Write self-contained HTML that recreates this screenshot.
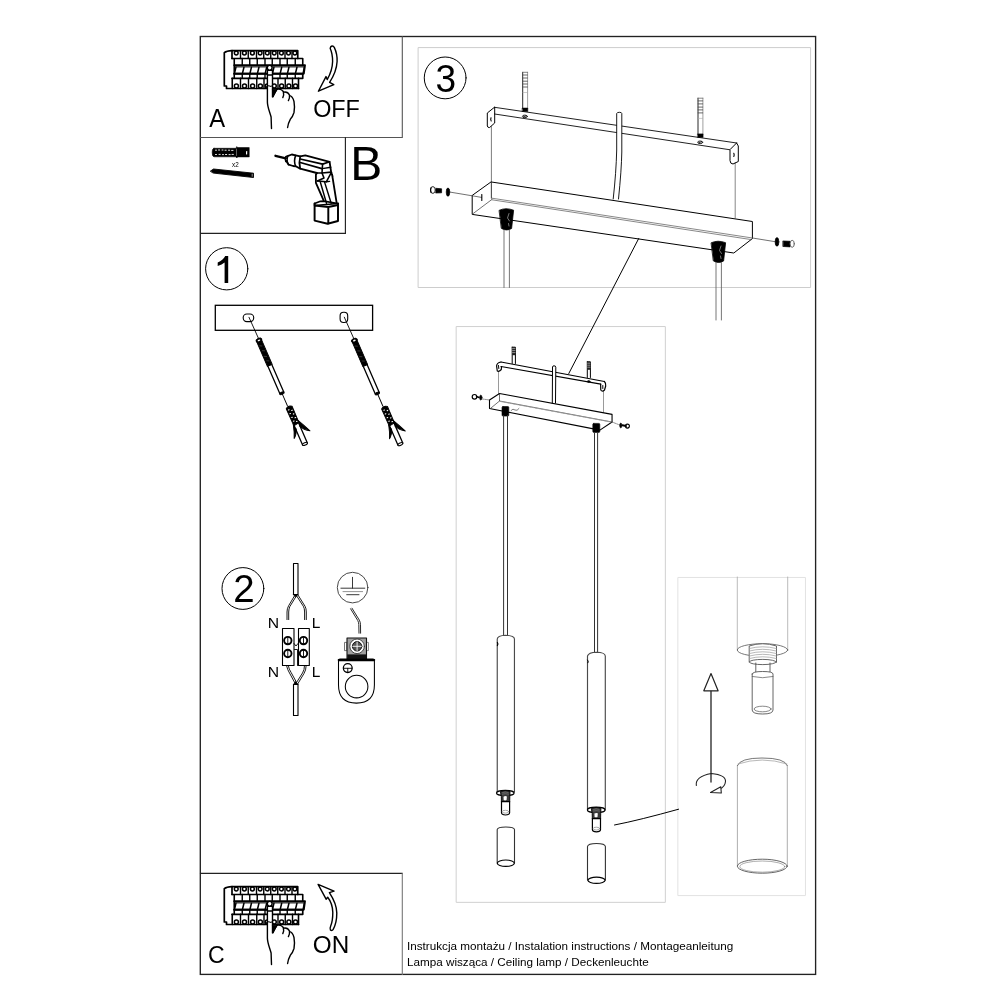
<!DOCTYPE html>
<html><head><meta charset="utf-8">
<style>
html,body{margin:0;padding:0;background:#fff;width:1000px;height:1000px;overflow:hidden}
svg{display:block;will-change:transform}
text{font-family:"Liberation Sans",sans-serif;fill:#000;stroke:none}
</style></head><body>
<svg width="1000" height="1000" viewBox="0 0 1000 1000" fill="none" stroke="#000" stroke-linejoin="round" stroke-linecap="round">
<!-- outer frame -->
<rect x="200.3" y="36.5" width="615.3" height="937.9" stroke="#222" stroke-width="1.35" stroke-linejoin="miter"/>
<!-- box A -->
<path d="M200.5 137.5H402.3V36.5" stroke="#555" stroke-width="1.1" stroke-linejoin="miter"/>
<!-- box B -->
<path d="M200.5 233.4H345.4V137.5" stroke="#222" stroke-width="1.15" stroke-linejoin="miter"/>
<!-- box C -->
<path d="M200.5 873.4H402.3" stroke="#222" stroke-width="1.2"/><path d="M402.3 873.4V974.5" stroke="#777" stroke-width="1.1"/>
<!-- step3 box -->
<rect x="418.5" y="47.6" width="392.1" height="239.9" stroke="#cdcdcd" stroke-width="1"/>
<!-- center box -->
<rect x="456.55" y="326.55" width="208.8" height="575.8" stroke="#d0d0d0" stroke-width="1"/>
<!-- detail box -->
<rect x="678.25" y="577.45" width="127.2" height="318.15" stroke="#e2e2e2" stroke-width="1"/>

<!-- panels -->
<g id="panel" stroke="#000">
<path d="M232 50.7Q226.5 51 224.3 52.7V86H226.5V88.5H298.5" stroke-width="1.7"/>
<path d="M232 58.5V50.7H297.75V58.5" stroke-width="1.7"/>
<path d="M240.5 50.7V58.5M248.25 50.7V58.5M256.5 50.7V58.5M263.75 50.7V58.5M270.75 50.7V58.5M277.75 50.7V58.5M285 50.7V58.5M292 50.7V58.5" stroke-width="1.4"/>
<path d="M234.35 53A1.9 1.9 0 1 0 238.15 53A1.9 1.9 0 1 0 234.35 53M242.48 53A1.9 1.9 0 1 0 246.28 53A1.9 1.9 0 1 0 242.48 53M250.48 53A1.9 1.9 0 1 0 254.28 53A1.9 1.9 0 1 0 250.48 53M258.22 53A1.9 1.9 0 1 0 262.02 53A1.9 1.9 0 1 0 258.22 53M265.35 53A1.9 1.9 0 1 0 269.15 53A1.9 1.9 0 1 0 265.35 53M272.35 53A1.9 1.9 0 1 0 276.15 53A1.9 1.9 0 1 0 272.35 53M279.48 53A1.9 1.9 0 1 0 283.28 53A1.9 1.9 0 1 0 279.48 53M286.60 53A1.9 1.9 0 1 0 290.40 53A1.9 1.9 0 1 0 286.60 53M292.98 53A1.9 1.9 0 1 0 296.78 53A1.9 1.9 0 1 0 292.98 53" stroke-width="1.5"/>
<path d="M232 58.5H302.75V65.3M234.25 58.5V78.3" stroke-width="1.6"/>
<path d="M242.25 58.5V65.3M249.75 58.5V65.3M257.25 58.5V65.3M265 58.5V65.3M272.25 58.5V65.3M280 58.5V65.3M287.25 58.5V65.3M295.25 58.5V65.3" stroke-width="1.4"/>
<path d="M234.25 65.2H305L303.8 73.7H234.25" stroke-width="1.9"/>
<path d="M234.6 66.9H304.6" stroke-width="1"/>
<path d="M235.95 67.2L234.55 73M243.95 67.2L242.55 73M251.45 67.2L250.05 73M258.95 67.2L257.55 73M266.70 67.2L265.30 73M273.95 67.2L272.55 73M281.70 67.2L280.30 73M288.95 67.2L287.55 73M296.95 67.2L295.55 73M304.4 67L303.2 73" stroke-width="1.5"/>
<path d="M234.25 73.7H302.75V78.3H232" stroke-width="1.7"/>
<path d="M242.25 73.7V78.3M249.75 73.7V78.3M257.25 73.7V78.3M265 73.7V78.3M272.25 73.7V78.3M280 73.7V78.3M287.25 73.7V78.3M295.25 73.7V78.3" stroke-width="1.4"/>
<path d="M232.25 78.3V88.5M298.5 78.3V88.5" stroke-width="1.6"/>
<path d="M240.5 78.3V88.5M248.5 78.3V88.5M256.75 78.3V88.5M264 78.3V88.5M270.5 78.3V88.5M278 78.3V88.5M285.25 78.3V88.5M292.5 78.3V88.5" stroke-width="1.4"/>
<path d="M234.38 86A2 2 0 1 1 238.38 86A2 2 0 1 1 234.38 86M242.50 86A2 2 0 1 1 246.50 86A2 2 0 1 1 242.50 86M250.62 86A2 2 0 1 1 254.62 86A2 2 0 1 1 250.62 86M258.38 86A2 2 0 1 1 262.38 86A2 2 0 1 1 258.38 86M265.25 86A2 2 0 1 1 269.25 86A2 2 0 1 1 265.25 86M272.25 86A2 2 0 1 1 276.25 86A2 2 0 1 1 272.25 86M279.62 86A2 2 0 1 1 283.62 86A2 2 0 1 1 279.62 86M286.88 86A2 2 0 1 1 290.88 86A2 2 0 1 1 286.88 86M293.50 86A2 2 0 1 1 297.50 86A2 2 0 1 1 293.50 86" stroke-width="1.5"/>
<path d="M271.5 128.6L271.1 117C269.5 111 267.4 107 267.4 102V70.2H272.5V96.9L273.5 95L277 89.3Q281.2 88.4 283.3 91.5Q284.2 94.5 282.8 97.6M283.4 92.2Q287.6 91.2 289.5 95Q289.9 98 288.4 100.6M289.3 95.4Q292.6 96 294 101.5Q295 107 294 112.5Q292.6 117 290.3 119.3Q288.2 123 287.6 127.5" fill="#fff" stroke-width="1.4"/>
<path d="M273.2 96.9L277 89.3L272.8 89.2Z" fill="#000" stroke-width="0.9"/>
<path d="M267.5 70.4H272.5M267.5 75H272.5" stroke-width="1.3"/>
<circle cx="269.7" cy="67.8" r="2.4" fill="#fff" stroke-width="1.4"/>
<path d="M266.6 86.6Q268.5 85 270.5 86.4Q271.5 85.8 272.5 86.2" stroke-width="1.1"/>
</g>
<use href="#panel" transform="translate(0 836)"/>
<!-- boxb -->
<g id="boxb" stroke="#000">
<!-- dowel -->
<path d="M214 148.3H236L236.8 146.6L237.6 147.6H248.6L249.2 147.5V157L248.6 156.9H237.6L236.8 158L236 156.8H214Q212.2 156.8 212.2 152.5Q212.2 148.3 214 148.3Z" fill="#000" stroke-width="0.6"/>
<path d="M215.5 150.2h1M218.5 150h1.2M222 150h1M225 150.2h1.2M228.5 150.2h1.2M231.6 150.4h1.4M215.5 154.5h1M219 154.4h1.2M222.5 154.6h1M225.5 154.5h1.2M229 154.6h1.2M232 154.4h1.4" stroke="#fff" stroke-width="0.9"/>
<path d="M246.6 151.6v2.4" stroke="#fff" stroke-width="1.2"/>
<path d="M236.5 149v6.5" stroke="#777" stroke-width="0.8"/>
<!-- screw -->
<path d="M210.6 171L213.5 169L253.5 173.2V177.5L213.5 173.1Z" fill="#000" stroke-width="0.9"/>
<path d="M252.2 174.3v2" stroke="#bbb" stroke-width="0.8"/>
<text x="232" y="166.8" font-size="6.3">x2</text>
<!-- drill -->
<path d="M275.5 155.8L285.8 158.3" stroke-width="2.40"/>
<path d="M285.8 156.8Q284.8 159 285.8 161.5" stroke-width="1.56"/>
<path d="M286.2 156.6L291.8 154.5L295.7 155.4L300.2 156.4L305.3 155.4L329.6 161.8L331 171.2Q333.5 180 332.1 174.7L336.6 202.6" stroke-width="1.82"/>
<path d="M286.2 160.8L288.6 164.7L293.1 166L295.7 166.3L300.2 168.6L316.8 173" stroke-width="1.82"/>
<path d="M287.7 156.2Q286.3 161 288.6 164.7" stroke-width="1.43"/>
<path d="M295.7 155.4Q293.4 161 295.7 166.3" stroke-width="1.56"/>
<path d="M300.2 156.4Q298.6 162.5 300.2 168.6" stroke-width="1.69"/>
<path d="M300.2 159L322.6 164.1L329.6 161.8" stroke-width="1.69"/>
<path d="M300.2 162.5L321.9 168.6" stroke-width="1.69"/>
<path d="M322.6 164.1L322 173L331.2 172.1" stroke-width="1.56"/>
<path d="M322.3 168.6L330.8 167.2" stroke-width="1.43"/>
<path d="M316.8 173L315.9 174.7V182.8L323.6 200.4" stroke-width="1.82"/>
<path d="M316.8 173L322 173L324 178L317.4 181" stroke-width="1.56"/>
<path d="M317.4 181L326.3 181.8L331.4 172.4" stroke-width="1.56"/>
<path d="M320.3 182L326.5 203.2M324.5 181.9L331.2 203.2M326.3 181.8L329.6 181.4" stroke-width="1.43"/>
<path d="M314.6 203.5L320.4 201.3L323.6 201.2L338 203.5L314.6 205.5Z" stroke-width="1.69"/>
<path d="M314.6 203.5V220.6L327.6 223.8L338 221V203.5M314.6 205.5L328.3 207L338 205M328.3 207V223.7" stroke-width="1.95"/>
</g>

<!-- step1 -->
<g id="step1" stroke="#000">
<rect x="215.3" y="305.3" width="157.3" height="25" stroke-width="1.3" stroke-linejoin="miter"/>
<rect x="243.2" y="314" width="10.5" height="7.6" rx="3.6" stroke-width="1.1"/>
<rect x="340.1" y="312.3" width="7.6" height="10.2" rx="3.5" stroke-width="1.1"/>
<path d="M249 317.3L258.4 338.2" stroke-width="0.9"/>
<path d="M344.3 317.2L353.8 338.6" stroke-width="0.9"/>
<g id="dw1" transform="translate(258.9 340.2) rotate(-23.5)">
<rect x="-2.6" y="0" width="5.2" height="27.5" fill="#000" stroke-width="0.9"/>
<ellipse cx="0" cy="0" rx="3.1" ry="2" fill="#000" stroke-width="0.7"/>
<ellipse cx="0" cy="0.2" rx="1.4" ry="0.8" fill="#fff" stroke="none"/>
<path d="M-1.5 5.5l2 1M-1 11l2 1M-1.5 17l2 1M-1 22l2 1" stroke="#666" stroke-width="0.5"/>
<path d="M-2.1 28V57.5M2.1 28V57.5" stroke-width="1.3"/>
<ellipse cx="0" cy="57.8" rx="2.4" ry="1.2" fill="#000" stroke-width="0.9"/>
<path d="M0 58.5V71.5" stroke-width="0.9"/>
<g transform="translate(0.9 0)">
<path d="M-3.2 73.8Q0 71 3.2 73.8L3 91.5L-3 92.5Z" fill="#000" stroke-width="0.9"/>
<path d="M-1.6 75.8h.6M1.2 77.5h.6M-1.8 79.8h.6M1.2 81.5h.6M-1.6 84h.6M1.3 85.6h.6M-1.5 88h.6M1.2 89.6h.6" stroke="#fff" stroke-width="1.1"/>
<path d="M-3 91Q-4.8 98 -7.8 104.2Q-3.8 101.5 -2 96" fill="#000" stroke-width="0.9"/>
<path d="M2.6 88.5Q6.2 95.5 9.8 103.5Q4.5 100 2.3 95" fill="#000" stroke-width="0.9"/>
<path d="M-2.6 92.5V113.5M2.6 92V113.5" stroke-width="1.3"/>
<ellipse cx="0" cy="113.5" rx="2.6" ry="1.2" fill="#fff" stroke-width="1.1"/>
</g>
</g>
<use href="#dw1" transform="translate(95.4 0.2)"/>
</g>

<!-- step2 -->
<g id="step2" stroke="#000">
<!-- top cable -->
<rect x="293.5" y="563.5" width="4.5" height="31" stroke-width="1.1"/>
<path d="M295 595L288.6 605.8Q287 608.5 287 612V619.6M296.8 595.2L289.8 606.6Q288.8 608.8 288.7 612V619.6" stroke-width="0.9"/>
<path d="M296.6 595.8L303.3 606.2Q304.6 608.4 304.6 612V619.6M298 595L305 606.2Q306.3 608.5 306.3 612V619.6" stroke-width="0.9"/>
<path d="M293.6 594.5H297.9L295.8 597Z" fill="#000" stroke-width="0.6"/>
<!-- terminal -->
<rect x="282.5" y="628.5" width="11.5" height="37" stroke-width="1.1"/>
<rect x="298.5" y="628.5" width="10.8" height="37" stroke-width="1.1"/>
<g stroke-width="1.9">
<circle cx="287.8" cy="640.6" r="3.7"/><circle cx="303.5" cy="640.6" r="3.7"/>
<circle cx="287.8" cy="653.5" r="3.7"/><circle cx="303.5" cy="653.5" r="3.7"/>
</g>
<path d="M287.8 637.6V643.6M303.5 637.6V643.6M287.8 650.5V656.5M303.5 650.5V656.5" stroke-width="0.9"/>
<path d="M294 643.5L296 646L298 643.5M294.5 649.5H297.5V665.5" stroke-width="0.9"/>
<!-- bottom wires -->
<path d="M286.5 665.5Q287.5 670 289.5 673L295.2 683.5M288.3 665.5Q289 669.5 291 672.3L296.6 682.5" stroke-width="0.9"/>
<path d="M304.5 665.5Q304.5 670 302.5 673L296.2 683M306.2 665.5Q306 670.5 304 673.5L297.8 683.8" stroke-width="0.9"/>
<path d="M293.6 684.2L295.5 681.5L298 684.2Z" fill="#000" stroke-width="0.6"/>
<rect x="293.5" y="684.5" width="4.5" height="31" stroke-width="1.1"/>
<!-- N L labels -->
<text transform="translate(267.74 627.6) scale(1.043 1)" font-size="15.07">N</text>
<text transform="translate(311.76 627.6) scale(1.025 1)" font-size="15.07">L</text>
<text transform="translate(267.74 676.9) scale(1.043 1)" font-size="15.07">N</text>
<text transform="translate(311.76 676.9) scale(1.025 1)" font-size="15.07">L</text>
<!-- ground symbol -->
<circle cx="352.6" cy="587.6" r="15.3" stroke="#333" stroke-width="0.9"/>
<path d="M352.5 577.3V588.2M340.9 588.2H364.8M346.7 594.7H359" stroke="#222" stroke-width="0.9"/>
<path d="M343 591.6H362.6" stroke="#888" stroke-width="0.9"/>
<!-- ground wire -->
<path d="M350.6 608.8L357.8 620.6Q358.6 622.2 358.8 624.5L359 633.2M352 608.2L359.4 620.2Q360.3 622 360.5 624.5L360.6 633.2" stroke-width="0.85"/>
<!-- screw box -->
<rect x="344.9" y="642.4" width="2" height="8.2" stroke="#555" stroke-width="0.8"/>
<rect x="366.6" y="642.4" width="1.9" height="8.2" stroke="#777" stroke-width="0.8"/>
<rect x="347" y="638" width="19.5" height="20.8" fill="#a0a0a0" stroke="#111" stroke-width="1.1"/>
<circle cx="357.1" cy="646.3" r="7.3" fill="#fff" stroke="#333" stroke-width="0.9"/>
<circle cx="357.1" cy="646.3" r="4.7" fill="#555" stroke="#111" stroke-width="1"/>
<path d="M357.1 642V650.6M352.8 646.3H361.4" stroke="#fff" stroke-width="0.9"/>
<rect x="347.2" y="654.4" width="19.1" height="4.4" fill="#111" stroke="none"/>
<!-- lug -->
<path d="M338.5 660.5Q338.5 659.1 340 659.1H373Q374.4 659.1 374.4 660.5V685Q374.4 703.1 356.4 703.1Q338.5 703.1 338.5 685Z" fill="#fff" stroke-width="1.05"/>
<path d="M338.8 660.1H374.1" stroke-width="2.3"/>
<circle cx="347.75" cy="668.1" r="4.4" stroke-width="1.3"/>
<path d="M343.6 668.3H351.9M347.75 668.3V672" stroke-width="0.9"/>
<circle cx="356.6" cy="686.6" r="11.3" stroke-width="1.05"/>
</g>

<!-- step3 -->
<g id="step3" stroke="#000">
<!-- vertical thin lines from bracket tabs -->
<path d="M491.4 126.6V198" stroke="#444" stroke-width="0.7"/>
<path d="M735.2 162.8V218" stroke="#555" stroke-width="0.7"/>
<!-- bracket -->
<path d="M494.5 107.3L736.6 143" stroke="#222" stroke-width="1"/>
<path d="M494.6 114L729.5 149.7" stroke="#222" stroke-width="1"/>
<path d="M494.4 107.3L487.3 113V126Q487.6 127.8 489.6 127.5L494.7 123V107.3" stroke-width="1"/>
<path d="M491 117.8Q490.3 119.5 491.2 121" stroke-width="1.1"/>
<path d="M736.6 143L738.3 146V161.5L733 164Q730.2 164 730 160.5V149.6L736.6 143" stroke-width="1"/>
<path d="M733.8 153.3Q734.6 155 733.8 156.5" stroke-width="1.1"/>
<!-- bolts -->
<g id="bolt3">
<path d="M522.7 72.3V108.5" stroke="#111" stroke-width="0.9"/>
<path d="M527.6 72.3V108.5" stroke="#888" stroke-width="0.8"/>
<path d="M522.7 72.3H527.6" stroke="#666" stroke-width="0.8"/>
<path d="M522.8 75H527.4M522.8 78H527.4M522.8 81.2H527.4M522.8 84H527.4M522.8 87H527.4" stroke="#444" stroke-width="0.8"/>
<path d="M523 92.5H527.3" stroke="#aaa" stroke-width="0.6"/>
<rect x="522.5" y="108" width="5.3" height="3.5" fill="#000" stroke-width="0.5"/>
<ellipse cx="524.9" cy="116.4" rx="2.5" ry="1.3" stroke="#222" stroke-width="1"/>
<path d="M523.4 116.8L526.4 115.8" stroke-width="0.8"/>
</g>
<use href="#bolt3" transform="translate(175.3 25.9)"/>
<!-- central cable -->
<path d="M613.2 199Q616.2 172 616.7 150V113.5Q617 112.3 619.3 112.3Q621.8 112.3 621.8 113.5V152Q621.5 170 618.5 199" fill="#fff" stroke-width="0.9"/>
<!-- canopy -->
<path d="M491.4 182L752.4 221.5V238.6L733.8 253L472.2 214.4V195.8Z" stroke-width="1"/>
<path d="M492 198.2L752.4 238M492 199.8L751.2 239.6" stroke="#555" stroke-width="0.7"/><path d="M472.8 213.8L492 199.4M491.4 182V198.2" stroke="#333" stroke-width="0.7"/>
<!-- left screw -->
<path d="M450.6 192.2L472.2 195.8M472.2 195.8L481.5 197.4" stroke="#333" stroke-width="0.7"/>
<path d="M481.8 194.6V200.4" stroke-width="1.1"/>
<ellipse cx="448" cy="192.1" rx="1.8" ry="4.2" fill="#000" stroke-width="0.6"/>
<path d="M436 188.3L441.6 188.8V192.8L436 193Z" fill="#000" stroke-width="0.7"/>
<ellipse cx="432.9" cy="190" rx="2.5" ry="3.4" fill="#fff" stroke="#222" stroke-width="1"/>
<path d="M431 187.8Q430.3 190 431 192.4" stroke-width="1.1"/>
<!-- right screw -->
<path d="M752.4 238L774.6 241.6" stroke="#333" stroke-width="0.7"/>
<ellipse cx="777" cy="241.9" rx="1.9" ry="4.3" fill="#000" stroke-width="0.6"/>
<path d="M783.2 241L790.2 241.3V246.9L783.2 246.5Z" fill="#000" stroke-width="0.7"/>
<ellipse cx="792.2" cy="243.8" rx="2.1" ry="3.5" fill="#fff" stroke="#666" stroke-width="1"/>
<!-- hangers -->
<g id="hanger3">
<path d="M499.4 210.2Q505.8 207.2 513.6 210.2L511.6 228.5Q506.5 231.5 501.6 228.5Z" fill="#000" stroke-width="0.8"/>
<path d="M509 213.5L507.5 218L509.5 221M508.5 223.5L509 226" stroke="#aaa" stroke-width="0.7"/>
<path d="M504 230V287.5M509.4 230V287.5" stroke="#666" stroke-width="0.9"/>
</g>
<use href="#hanger3" transform="translate(212 32.5)"/>
<!-- connector line -->
<path d="M638.7 238.5L568.8 373.5" stroke-width="1"/>
</g>

<!-- center -->
<g id="center" stroke="#000">
<!-- thin verticals -->
<path d="M498.5 371.5V393.5M603.5 391.4V412.5" stroke="#555" stroke-width="0.6"/>
<!-- bracket -->
<path d="M501 362L604.4 381.5M501 366.5L600.8 384.2" stroke-width="1.2"/>
<path d="M501 362Q497 362.5 496.6 366L497.3 371Q499 372 501.3 369.5L501.5 366.5" stroke-width="1.2"/>
<path d="M498.5 365.5L498.8 368.5" stroke-width="1"/>
<path d="M604.4 381.5Q606 383 605.7 386L604.5 390Q602.3 392.2 600.8 390L600.6 384.2" stroke-width="1.2"/>
<path d="M602.8 385.5V388.5" stroke-width="1"/>
<!-- bolts -->
<path d="M512.2 347.2H515.4V363.5M512.2 347.2V363.5" stroke-width="1"/>
<rect x="512.2" y="347.2" width="3.2" height="8" fill="#222" stroke="none"/>
<path d="M512.6 348.6H515M512.6 350.6H515M512.6 352.6H515" stroke="#fff" stroke-width="0.5"/>
<path d="M587.3 361.8H590.4V377.5M587.3 361.8V377.5" stroke-width="1"/>
<rect x="587.3" y="361.8" width="3.1" height="8" fill="#222" stroke="none"/>
<path d="M587.7 363.2H590M587.7 365.2H590M587.7 367.2H590" stroke="#fff" stroke-width="0.5"/>
<ellipse cx="588.7" cy="381.5" rx="1.4" ry="0.9" fill="#000" stroke-width="0.6"/>
<!-- cable -->
<path d="M552.3 403.2L552.5 367Q552.6 365.8 554 365.8Q555.8 365.8 555.8 367.2L555.5 403" fill="#fff" stroke-width="1"/>
<!-- canopy -->
<path d="M499.5 393.5L612.05 414.35V422L599.9 430.1L489.5 408.5V400L499.5 393.5Z" stroke-width="1.1"/>
<path d="M499.5 394V401L491 408M499.5 401L612 422" stroke="#333" stroke-width="0.7"/>
<path d="M500.5 401.5L611 422" stroke="#999" stroke-width="0.9" stroke-dasharray="2 1.2"/>
<!-- screws -->
<path d="M482.5 399L489.5 400M612.05 422L619.7 425" stroke="#444" stroke-width="0.6" stroke-dasharray="1.5 1"/>
<circle cx="474.5" cy="396.8" r="2.3" stroke-width="1.2"/>
<path d="M476.5 396.5L479 397.5" stroke-width="1.4"/>
<ellipse cx="480.8" cy="397.6" rx="1.2" ry="2.5" fill="#000" stroke-width="0.6"/>
<ellipse cx="620.8" cy="425.5" rx="1.1" ry="2.4" fill="#000" stroke-width="0.6"/>
<path d="M622.5 425.2L626 426" stroke-width="2"/>
<circle cx="627.4" cy="426.1" r="2" stroke-width="1.1"/>
<!-- hangers -->
<rect x="502" y="406.5" width="6.8" height="9.6" rx="1" fill="#000" stroke-width="0.6"/>
<path d="M511 410.5Q513 408 515 410Q517 411.5 519 408.5" stroke="#444" stroke-width="0.7"/>
<rect x="592.8" y="423.4" width="7" height="9" rx="1" fill="#000" stroke-width="0.6"/>
</g>

<!-- pend -->
<g id="pend" stroke="#000">
<!-- left pendant -->
<path d="M503.6 415.5V635.5M507.5 415.5V635.3" stroke="#333" stroke-width="1"/>
<path d="M497.25 792V639Q497.6 635.5 505.5 635.2Q514.5 635.5 514.45 639V792" stroke="#4a4a4a" stroke-width="1.15"/>
<path d="M497.4 642.5Q498.4 644 497.4 645.5" stroke-width="1.2"/>
<use href="#sock" transform="translate(-90.9 -16.9)"/>
<path d="M497.2 863V829.5Q497.6 827 505.8 827Q514.2 827 514.5 829.5V863" stroke="#333" stroke-width="1.1"/>
<ellipse cx="505.8" cy="863.2" rx="8.5" ry="3.2" stroke-width="1.2"/>
<!-- right pendant -->
<path d="M594.5 433V652.5M597.6 433V652.3" stroke="#333" stroke-width="1"/>
<path d="M587.5 810V656Q588.5 652.3 596.5 652.2Q605 652.3 605.3 656V810" stroke="#4a4a4a" stroke-width="1.15"/>
<path d="M587.6 660Q589 661.5 588 662.8" stroke-width="1"/>
<g id="sock">
<ellipse cx="596.2" cy="809.9" rx="8.8" ry="2.7" fill="#fff" stroke-width="1.2"/>
<path d="M591.6 808.2Q596.2 806.6 600.9 808.2L600.7 813.8L600.6 818.6H592.3L592.2 813.8Z" fill="#3a3a3a" stroke-width="0.9"/>
<path d="M593.5 809.3Q596.2 808.4 599 809.3M593.2 811Q596.2 810.2 599.4 811" stroke="#999" stroke-width="0.5"/>
<path d="M594.4 813.6Q596 812.6 597.8 813.3L597.5 817Q596 817.6 594.6 817Z" fill="#fff" stroke="none"/>
<path d="M592.4 818.6V829.6Q592.6 831.8 596.4 831.9Q600.3 831.8 600.5 829.6V818.6" fill="#fff" stroke-width="1.2"/>
<path d="M592.4 818.6H600.5" stroke-width="1.3"/>
<ellipse cx="596.4" cy="828.6" rx="3.3" ry="1.4" stroke="#888" stroke-width="0.7"/>
</g>
<path d="M587.5 880V846.5Q588 843.5 596.5 843.5Q605 843.5 605.4 846.5V880" stroke="#333" stroke-width="1.1"/>
<ellipse cx="596.5" cy="880.3" rx="8.6" ry="3.1" stroke-width="1.2"/>
<!-- connector line to detail -->
<path d="M614.5 825Q640 820 678.6 809.2" stroke-width="1"/>
</g>
<g id="detail" stroke="#555">
<path d="M737.3 577V650M787.7 577V650" stroke="#aaa" stroke-width="0.8"/>
<ellipse cx="762.5" cy="650" rx="25.2" ry="6.3" stroke-width="0.8"/>
<path d="M749.2 662V646Q762.5 641.5 776.5 646V662" fill="#fff" stroke-width="0.9"/>
<path d="M749.5 648.5Q762.5 645 776.3 648.5M749.5 651Q762.5 647.5 776.3 651M749.5 653.5Q762.5 650 776.3 653.5M749.5 656Q762.5 652.5 776.3 656M749.5 658.5Q762.5 655 776.3 658.5" stroke="#999" stroke-width="0.7"/>
<ellipse cx="762.8" cy="662" rx="13.5" ry="2.6" stroke-width="0.9"/>
<path d="M755.8 663V672M770 663V672" stroke-width="0.9"/>
<path d="M752.2 674V710Q752.2 714 762.6 714Q773 714 773 710V674Q773 671.5 762.6 671.5Q752.2 671.5 752.2 674Z" fill="#fff" stroke-width="0.9"/>
<path d="M752.2 676.5Q762.6 679 773 676.5" stroke-width="0.7"/>
<ellipse cx="762.6" cy="709" rx="8.5" ry="2.8" stroke-width="0.7"/>
<path d="M737.4 866V765.6M787.3 765.6V866" stroke="#999" stroke-width="0.8"/><path d="M737.4 765.6Q740 758 762 758Q785 758 787.3 765.6" stroke="#555" stroke-width="0.8"/>
<path d="M738 764Q762 756 787 764" stroke="#999" stroke-width="0.7"/>
<ellipse cx="762.3" cy="866.2" rx="24.9" ry="7" stroke-width="0.9"/>
<ellipse cx="762.3" cy="866.6" rx="22.5" ry="5.6" stroke="#777" stroke-width="0.6"/>
<!-- arrow -->
<path d="M711 690.8V782" stroke="#222" stroke-width="1.3"/>
<path d="M711 673.5L703.8 690.8H718.1Z" fill="#fff" stroke="#222" stroke-width="1.2"/>
<path d="M696.3 785.5Q695 776.5 711.4 773.5Q726 775 725.5 781.5Q725 787 719.5 789" stroke="#222" stroke-width="1.1"/>
<path d="M710.5 792.5L720.8 786.8L721.3 793Z" fill="#fff" stroke="#222" stroke-width="1.1"/>
</g>

<!-- arrows -->
<path d="M330.2 48.5Q330.6 46 332.2 46Q333.6 46 334.4 47.6Q337.4 54 337.1 61.5Q336.6 71.5 329.6 82.4L333.8 84.6L318.4 91.2L326 76.6L327.2 79.6Q332.4 70.5 332.6 61.5Q332.6 53.5 330.2 48.5Z" fill="#fff" stroke-width="1.4"/>
<path d="M318.1 884.4L334 891.2L329.4 892.6Q336.8 904 336.8 913Q336.8 923 333.2 929.3Q331.8 931.2 330.4 930Q329.6 928.5 330.7 926Q332.8 921 332.8 912.5Q332.6 903.5 327.7 897.3L326.1 899.2Z" fill="#fff" stroke-width="1.4"/>
<!-- labels -->
<text transform="translate(209.15 126.65) scale(0.946 1)" font-size="25.2">A</text>
<text transform="translate(313.13 116.95) scale(0.955 1)" font-size="24.5">OFF</text>
<text transform="translate(350.36 179.8) scale(0.989 1)" font-size="48.5">B</text>
<text transform="translate(208 963.46) scale(0.976 1)" font-size="23.66">C</text>
<text transform="translate(312.79 952.51) scale(1.029 1)" font-size="23.6">ON</text>
<text x="407" y="950" font-size="11.7">Instrukcja montażu / Instalation instructions / Montageanleitung</text>
<text x="407" y="966" font-size="11.7">Lampa wisząca / Ceiling lamp / Deckenleuchte</text>

<!-- step circles -->
<circle cx="226.7" cy="268.8" r="21.1" stroke-width="1"/>
<path d="M228.2 255.9V282.9H224.6V262.6Q222 264.9 217.7 265.9V262.5Q223 260.3 225.2 255.9Z" fill="#000" stroke="none"/>
<circle cx="242.9" cy="588.5" r="20.9" stroke-width="1"/>
<text transform="translate(233.18 602) scale(1.009 1)" font-size="38.1">2</text>
<circle cx="445.15" cy="77.9" r="20.9" stroke-width="1"/>
<text transform="translate(435.42 91.62) scale(0.963 1)" font-size="38.45">3</text>
</svg>
</body></html>
